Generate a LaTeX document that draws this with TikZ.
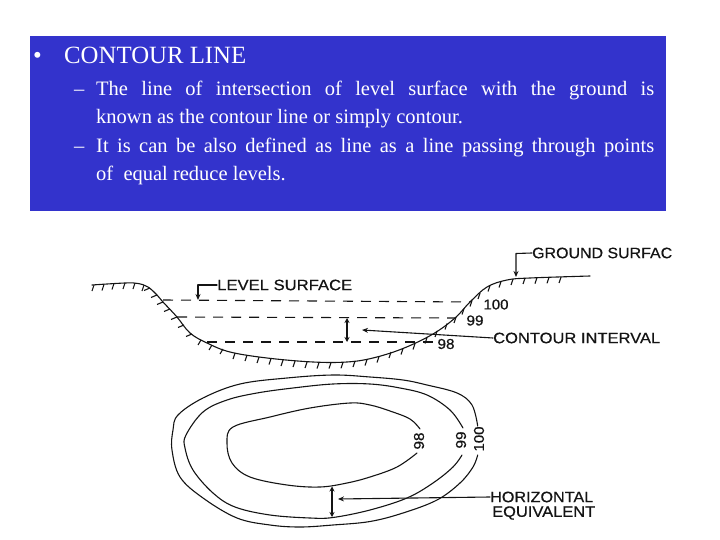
\documentclass[tikz,border=0pt]{standalone}
\usepackage{fontspec}
\usepackage{graphicx}
\setmainfont{Liberation Serif}
\newfontfamily\labfont[FakeBold=0.6]{Liberation Sans}
\usetikzlibrary{arrows.meta}
\definecolor{panelblue}{RGB}{51,51,204}
\definecolor{inkc}{RGB}{20,20,20}
\newcommand{\lab}[3]{\resizebox{#1pt}{#2pt}{\labfont #3}}
\tikzset{
  panel/.style={fill=panelblue,draw=none},
  headtext/.style={text=white,inner sep=0pt,anchor=base west,font=\fontsize{24.8}{24.8}\selectfont},
  bodytext/.style={text=white,inner sep=0pt,anchor=base west,font=\fontsize{20.5}{20.5}\selectfont},
  label/.style={text=inkc,inner sep=0pt},
  ink/.style={draw=inkc,line width=1.1pt,line cap=round,line join=round},
  hatch/.style={draw=inkc,line width=1.1pt},
  dashline/.style={draw=inkc,line width=1.1pt,dash pattern=on 10pt off 8pt},
  tip/.style={-{Stealth[length=6pt,width=5pt]}},
  twotip/.style={{Stealth[length=5pt,width=5pt]}-{Stealth[length=5pt,width=5pt]}}
}
\begin{document}
\begin{tikzpicture}[x=1pt,y=-1pt]
\useasboundingbox (0,0) rectangle (720,540);
\node[panel,minimum width=636pt,minimum height=175pt,inner sep=0pt,anchor=north west] (box) at (30,36) {};
\node[headtext] (bullet) at (33,64) {•};
\node[headtext] (head) at (64,64) {CONTOUR LINE};
\node[bodytext] (dash1) at (74,96) {–};
\node[bodytext] (l1) at (96,96) {\makebox[558pt][s]{The line of intersection of level surface with the ground is}};
\node[bodytext] (l2) at (96,124) {known as the contour line or simply contour.};
\node[bodytext] (dash2) at (74,153) {–};
\node[bodytext] (l3) at (96,153) {\makebox[558pt][s]{It is can be also defined as line as a line passing through points}};
\node[bodytext] (l4) at (96,181) {of\ \ equal reduce levels.};

% ground profile
\draw[ink] plot[smooth,tension=0.6] coordinates {(92,285)(125,283)(138,283.5)(148,287)(157,295)(163,302)(177,317)(190,333)(207,343)(230,352)(267,358)(313,362)(347,362)(373,358)(403,348.5)(433,334)(455,318)(470,302)(487,287)(507,280)(530,278)(590,276)};
\foreach \px/\py in {94/285,104/284.5,114/283.5,125/283,135/283,144/285}
  \draw[hatch] (\px,\py) -- ++(-2,6);
\foreach \px/\py in {150/288,157/295,163/302,170/309,177/317,184/325,192/334}
  \draw[hatch] (\px,\py) -- ++(-6,2.5);
\foreach \px/\py in {201/340,212/345,223/349}
  \draw[hatch] (\px,\py) -- ++(-3,5);
\foreach \px/\py in {235/353,247/355,259/357,271/358.5,283/360,295/361,307/362,319/362.5,331/362.5,343/362.3,355/361,367/359.5,379/356.5,391/352,403/348.5,415/343.5,427/337.5,437/331,447/323.5,456/317,464/308.5,472/300.5,480/293,490/285.5,501/281.5,513/279,525/278,537/277.6,549/277.3,561/277}
  \draw[hatch] (\px,\py) -- ++(-2,6);

% level lines
\coordinate (a1) at (163,300); \coordinate (a2) at (470,302);
\coordinate (b1) at (177,317); \coordinate (b2) at (455,318);
\coordinate (c1) at (207,342); \coordinate (c2) at (433,342);
\draw[dashline] (a1) -- (a2);
\draw[dashline] (b1) -- (b2);
\draw[dashline] (c1) -- (c2);

% labels of the section
\node[label,anchor=west] (lvl) at (217,285) {\lab{135}{10.5}{LEVEL SURFACE}};
\node[label,anchor=west] (gnd) at (532,253) {\lab{140}{10.5}{GROUND SURFAC}};
\node[label,anchor=west] (ci) at (493,338) {\lab{167}{10.5}{CONTOUR INTERVAL}};
\node[label] (n100) at (496,304.5) {\lab{25}{10}{100}};
\node[label] (n99) at (475,320.5) {\lab{17}{10}{99}};
\node[label] (n98) at (446,344) {\lab{17}{10}{98}};

\coordinate (lvlc) at (198,285); \coordinate (lvlt) at (198,300);
\draw[ink,tip] (lvl.west) -- (lvlc) -- (lvlt);
\coordinate (gndc) at (516,253.5); \coordinate (gndt) at (516,277);
\draw[ink,tip] (gnd.west) -- (gndc) -- (gndt);
\coordinate (cit) at (362,330); \coordinate (ciu) at (347,318); \coordinate (cid) at (347,342);
\draw[ink,tip] (ci.west) -- (cit);
\draw[ink,twotip] (ciu) -- (cid);

% contours
\draw[ink] plot[smooth,tension=0.6] coordinates {(477.7,426)(472,405)(457,393)(427,385)(403,380)(370,377)(333,375)(287,378)(240,384)(203,398)(178,415)(173,430)(172,450)(180,477)(203,498)(237,518)(270,525)(300,527)(333,525)(370,521.5)(403,513)(437,500)(460,483)(473,467)(477.7,455)};
\draw[ink] plot[smooth,tension=0.6] coordinates {(463,428)(450,410)(427,395)(400,388)(370,384)(333,384)(293,388)(257,393)(227,400)(203,412)(186,435)(185,448)(193,470)(213,493)(235,507)(270,515)(310,518)(333,517.5)(370,510)(407,498)(433,483)(453,467)(462,455)};
\draw[ink] plot[smooth,tension=0.6] coordinates {(420,429)(410,419)(390,411)(370,405)(350,403)(310,408)(270,417)(233,427)(227,443)(232,463)(250,477)(287,485)(320,487)(347,483)(370,477)(397,467)(417,453)};

\node[label,rotate=90] (c98) at (419,441) {\lab{17}{10}{98}};
\node[label,rotate=90] (c99) at (461,440) {\lab{17}{10}{99}};
\node[label,rotate=90] (c100) at (479,439) {\lab{25}{10}{100}};

\node[label,anchor=west] (he1) at (490,497) {\lab{103}{10.5}{HORIZONTAL}};
\node[label,anchor=west] (he2) at (492,513) {\lab{103}{10.5}{EQUIVALENT}};
\coordinate (het) at (338,499); \coordinate (heu) at (332,486.5); \coordinate (hed) at (332,517);
\draw[ink,tip] (he1.west) -- (het);
\draw[ink,twotip] (heu) -- (hed);
\end{tikzpicture}
\end{document}
